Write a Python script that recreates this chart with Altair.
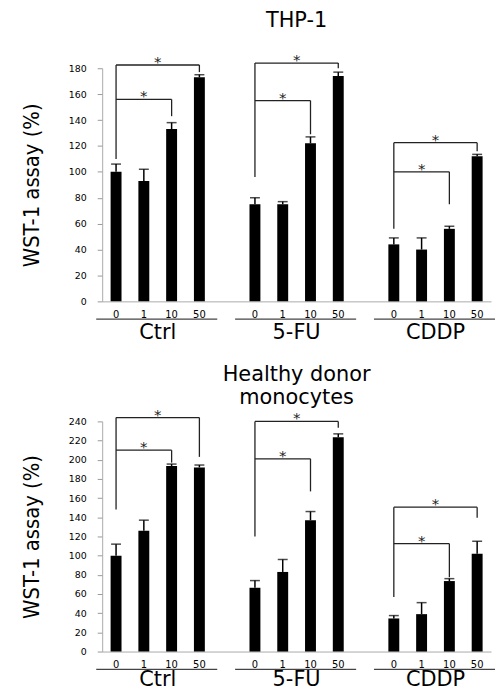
import altair as alt
import pandas as pd

# Treatment groups and drug doses on the x axis
groups = ["Ctrl", "5-FU", "CDDP"]
doses = ["0", "1", "10", "50"]

# THP-1 cells: WST-1 signal (% of untreated) and upper error
thp1_mean = [100, 93, 133, 173, 75, 75, 122, 174, 44, 40, 56, 112]
thp1_err = [6, 9, 5, 2, 5, 2, 5, 3, 5, 9, 2, 1.5]

# Healthy donor monocytes
hdm_mean = [100, 126, 193.5, 192, 66.5, 83, 137, 223.5, 34.5, 39, 73.5, 102]
hdm_err = [12, 11, 2, 2.5, 7.5, 13, 9, 3.5, 3, 12, 2.5, 13]

# Significance brackets per group: level of the 0-vs-50 bracket, level of the
# 0-vs-10 bracket, and where each leg ends
thp1_outer_level = [182.5, 184, 122.5]
thp1_inner_level = [156, 155, 100]
thp1_left_end = [110, 96, 56]
thp1_outer_end = [177, 180, 116]
thp1_inner_end = [143, 129, 75]

hdm_outer_level = [244, 240, 150.5]
hdm_inner_level = [210, 201, 112.5]
hdm_left_end = [148, 120, 57]
hdm_outer_end = [203, 233.5, 139.5]
hdm_inner_end = [197, 167, 77.5]

FONT = "DejaVu Sans"
NARROW = "Liberation Sans Narrow, DejaVu Sans Condensed, Liberation Sans, sans-serif"
WIDTH = 392


def key(g, d):
    return f"{g}|{d}"


slots = []
for i, g in enumerate(groups):
    slots += [key(g, d) for d in doses]
    if i < len(groups) - 1:
        slots.append(f"gap{i}")


def panel(title, mean, err, outer_level, inner_level, left_end, outer_end,
          inner_end, ymax, height, name_y):
    xscale = alt.Scale(domain=slots, paddingInner=0, paddingOuter=0)
    yscale = alt.Scale(domain=[0, ymax], nice=False)
    ytitle = "WST-1 assay (%)"

    bars = pd.DataFrame({
        "slot": [key(g, d) for g in groups for d in doses],
        "mean": mean,
        "err": err,
    })
    bars["top"] = bars["mean"] + bars["err"]

    horiz = pd.DataFrame({
        "from": [key(g, "0") for g in groups] * 2,
        "to": [key(g, "50") for g in groups] + [key(g, "10") for g in groups],
        "level": outer_level + inner_level,
    })
    legs = pd.DataFrame({
        "slot": [key(g, "0") for g in groups]
        + [key(g, "50") for g in groups]
        + [key(g, "10") for g in groups],
        "top": outer_level + outer_level + inner_level,
        "bottom": left_end + outer_end + inner_end,
    })
    stars_outer = pd.DataFrame({"slot": [key(g, "10") for g in groups],
                                "level": outer_level, "s": ["*"] * 3})
    stars_inner = pd.DataFrame({"slot": [key(g, "1") for g in groups],
                                "level": inner_level, "s": ["*"] * 3})
    glabels = pd.DataFrame({
        "slot": [key(g, "10") for g in groups],
        "first": [key(g, "0") for g in groups],
        "last": [key(g, "50") for g in groups],
        "name": groups,
    })

    x_axis = alt.Axis(
        labelExpr="indexof(datum.value, '|') > 0 ? split(datum.value, '|')[1] : ''",
        labelAngle=0, labelFont=FONT, labelFontSize=10, labelColor="black",
        labelPadding=8, ticks=False, domainColor="#aaa", grid=False,
    )
    y_axis = alt.Axis(
        values=list(range(0, ymax + 1, 20)), labelFont=FONT, labelFontSize=9.5,
        labelColor="black", labelPadding=11, labelOverlap=False, tickSize=5,
        tickColor="#999", domainColor="#aaa", grid=False, titleFont=NARROW,
        titleFontSize=22, titleFontWeight="normal", titleColor="black",
        titlePadding=25,
    )

    def X(field, **kw):
        return alt.X(field, scale=xscale, axis=x_axis, title=None, **kw)

    def Y(field):
        return alt.Y(field, scale=yscale, axis=y_axis, title=ytitle)

    bar_layer = alt.Chart(bars).mark_bar(size=11, color="black").encode(
        x=X("slot:N"), y=Y("mean:Q"),
    )
    err_rule = alt.Chart(bars).mark_rule(color="black", strokeWidth=1.5).encode(
        x=X("slot:N"), y=Y("mean:Q"), y2="top:Q",
    )
    err_cap = alt.Chart(bars).mark_tick(color="black", size=10, thickness=1.5).encode(
        x=X("slot:N"), y=Y("top:Q"),
    )
    h_lines = alt.Chart(horiz).mark_rule(color="#222", strokeWidth=1.3).encode(
        x=X("from:N"), x2="to:N", y=Y("level:Q"),
    )
    v_lines = alt.Chart(legs).mark_rule(color="#222", strokeWidth=1.3).encode(
        x=X("slot:N"), y=Y("top:Q"), y2="bottom:Q",
    )
    star_o = alt.Chart(stars_outer).mark_text(
        font=FONT, fontSize=15, baseline="alphabetic", dy=2, fill="#222"
    ).encode(x=X("slot:N", bandPosition=0), y=Y("level:Q"), text="s:N")
    star_i = alt.Chart(stars_inner).mark_text(
        font=FONT, fontSize=15, baseline="alphabetic", dy=2, fill="#222"
    ).encode(x=X("slot:N"), y=Y("level:Q"), text="s:N")
    underline = alt.Chart(glabels).mark_rule(
        color="#444", strokeWidth=1.2, xOffset=-20, x2Offset=18
    ).encode(x=X("first:N"), x2="last:N", y=alt.value(height + 18))
    names = alt.Chart(glabels).mark_text(
        font=FONT, fontSize=21, baseline="alphabetic", fill="black"
    ).encode(x=X("slot:N", bandPosition=0), y=alt.value(height + name_y),
             text="name:N")

    return alt.layer(
        bar_layer, err_rule, err_cap, h_lines, v_lines, star_o, star_i,
        underline, names,
    ).properties(width=WIDTH, height=height, title=title)


top = panel(
    alt.TitleParams("THP-1", font=FONT, fontSize=21, fontWeight="normal",
                    anchor="middle", offset=22, color="black"),
    thp1_mean, thp1_err, thp1_outer_level, thp1_inner_level, thp1_left_end,
    thp1_outer_end, thp1_inner_end, 180, 235, 38,
)
bottom = panel(
    alt.TitleParams(["Healthy donor", "monocytes"], font=FONT, fontSize=21,
                    fontWeight="normal", anchor="middle", lineHeight=23,
                    offset=0, color="black"),
    hdm_mean, hdm_err, hdm_outer_level, hdm_inner_level, hdm_left_end,
    hdm_outer_end, hdm_inner_end, 240, 232, 35,
)

chart = alt.vconcat(top, bottom, spacing=21).properties(
    padding={"left": 20, "top": 7, "right": 0, "bottom": 0},
    background="white",
).configure_view(stroke=None).configure_axis(labelOverlap=False)

chart.save("out.html", embed_options={"renderer": "svg", "actions": False})
